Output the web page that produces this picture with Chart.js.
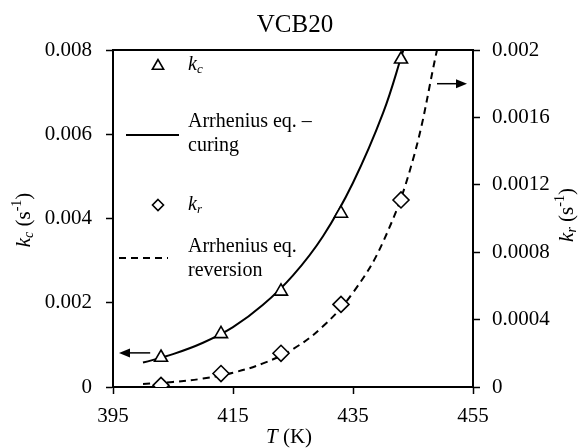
<!DOCTYPE html>
<html>
<head>
<meta charset="utf-8">
<script src="https://cdn.jsdelivr.net/npm/chart.js@4"></script>
<style>
html, body { margin: 0; padding: 0; background: #fff; }
</style>
</head>
<body>
<canvas id="chart" width="581" height="448"></canvas>
<script>
// measured rate constants (T in K)
const tempC = [403, 413, 423, 433, 443];
const kcVals = [0.00070, 0.00126, 0.00227, 0.00412, 0.00778];
const tempR = [403, 413, 423, 433, 443];
const krVals = [0.00001, 0.00008, 0.00020, 0.00049, 0.00111];

// Arrhenius fits
const fitCT = [400, 405, 410, 415, 420, 425, 430, 435, 440, 443.4];
const fitC = [0.00058, 0.00078, 0.00105, 0.00142, 0.00195, 0.00265, 0.00358, 0.00485, 0.0065, 0.0080];
const fitRT = [400, 405, 410, 415, 420, 425, 430, 435, 440, 445, 449];
const fitR = [0.000018, 0.00003, 0.00005, 0.000085, 0.00014, 0.000225, 0.00036, 0.00056, 0.00086, 0.00135, 0.0020];

// tick values
const xTicks = [395, 415, 435, 455];
const kcTicks = [0, 0.002, 0.004, 0.006, 0.008];
const krTicks = [0, 0.0004, 0.0008, 0.0012, 0.0016, 0.002];

const SERIF = '"Liberation Serif", "Times New Roman", serif';
const fnt = (size, italic) => (italic ? 'italic ' : '') + size + 'px ' + SERIF;
const fmt = v => String(parseFloat(v.toFixed(6)));

function drawRich(ctx, parts, x, y, align) {
    let w = 0;
    parts.forEach(p => { ctx.font = p.f; w += ctx.measureText(p.t).width; });
    let cx = align === 'center' ? x - w / 2 : x;
    ctx.textAlign = 'left';
    ctx.textBaseline = 'middle';
    parts.forEach(p => {
        ctx.font = p.f;
        ctx.fillText(p.t, cx, y + (p.dy || 0));
        cx += ctx.measureText(p.t).width;
    });
}

function triangle(ctx, x, y, r) {
    ctx.beginPath();
    ctx.moveTo(x, y - r);
    ctx.lineTo(x - r * 0.866, y + r / 2);
    ctx.lineTo(x + r * 0.866, y + r / 2);
    ctx.closePath();
    ctx.stroke();
}

function diamond(ctx, x, y, r) {
    ctx.beginPath();
    ctx.moveTo(x, y - r);
    ctx.lineTo(x + r, y);
    ctx.lineTo(x, y + r);
    ctx.lineTo(x - r, y);
    ctx.closePath();
    ctx.stroke();
}

function arrow(ctx, x1, y1, x2, y2) {
    const dir = Math.sign(x2 - x1);
    ctx.beginPath();
    ctx.moveTo(x1, y1);
    ctx.lineTo(x2 - dir * 9, y2);
    ctx.stroke();
    ctx.beginPath();
    ctx.moveTo(x2, y2);
    ctx.lineTo(x2 - dir * 11, y2 - 4.5);
    ctx.lineTo(x2 - dir * 11, y2 + 4.5);
    ctx.closePath();
    ctx.fill();
}

const decorations = {
    id: 'decorations',
    afterDraw(chart) {
        const ctx = chart.ctx;
        const sx = chart.scales.x, sy = chart.scales.y, sy2 = chart.scales.y2;
        ctx.save();
        ctx.fillStyle = '#000';
        ctx.strokeStyle = '#000';

        // title
        drawRich(ctx, [{ t: 'VCB20', f: fnt(25) }], 295, 25, 'center');

        // x title
        drawRich(ctx, [{ t: 'T', f: fnt(21, true) }, { t: ' (K)', f: fnt(21) }], 289, 437, 'center');

        // left y title
        ctx.save();
        ctx.translate(24, 220);
        ctx.rotate(-Math.PI / 2);
        drawRich(ctx, [
            { t: 'k', f: fnt(21, true) }, { t: 'c', f: fnt(14, true), dy: 5 },
            { t: ' (s', f: fnt(21) }, { t: '-1', f: fnt(14), dy: -7 }, { t: ')', f: fnt(21) }
        ], 0, 0, 'center');
        ctx.restore();

        // right y title
        ctx.save();
        ctx.translate(567, 215);
        ctx.rotate(-Math.PI / 2);
        drawRich(ctx, [
            { t: 'k', f: fnt(21, true) }, { t: 'r', f: fnt(14, true), dy: 5 },
            { t: ' (s', f: fnt(21) }, { t: '-1', f: fnt(14), dy: -7 }, { t: ')', f: fnt(21) }
        ], 0, 0, 'center');
        ctx.restore();

        // legend
        ctx.lineWidth = 1.6;
        triangle(ctx, 158, 66, 6.5);
        drawRich(ctx, [{ t: 'k', f: fnt(20, true) }, { t: 'c', f: fnt(13, true), dy: 5 }], 188, 65);

        ctx.lineWidth = 2;
        ctx.beginPath();
        ctx.moveTo(126, 135);
        ctx.lineTo(179, 135);
        ctx.stroke();
        drawRich(ctx, [{ t: 'Arrhenius eq. \u2013', f: fnt(20) }], 188, 122);
        drawRich(ctx, [{ t: 'curing', f: fnt(20) }], 188, 146);

        ctx.lineWidth = 1.6;
        diamond(ctx, 158, 205, 5.5);
        drawRich(ctx, [{ t: 'k', f: fnt(20, true) }, { t: 'r', f: fnt(13, true), dy: 5 }], 188, 205);

        ctx.lineWidth = 2;
        ctx.setLineDash([7, 5]);
        ctx.beginPath();
        ctx.moveTo(119, 258);
        ctx.lineTo(168, 258);
        ctx.stroke();
        ctx.setLineDash([]);
        drawRich(ctx, [{ t: 'Arrhenius eq.', f: fnt(20) }], 188, 247);
        drawRich(ctx, [{ t: 'reversion', f: fnt(20) }], 188, 271);

        // axis arrows
        ctx.lineWidth = 1.5;
        arrow(ctx, sx.getPixelForValue(401.2), sy.getPixelForValue(0.00081),
            sx.getPixelForValue(396), sy.getPixelForValue(0.00081));
        arrow(ctx, sx.getPixelForValue(449), sy2.getPixelForValue(0.0018),
            sx.getPixelForValue(454), sy2.getPixelForValue(0.0018));
        ctx.restore();
    }
};

const axisGrid = { display: true, drawOnChartArea: false, drawTicks: true, tickLength: 7, tickColor: '#000', tickWidth: 1.5 };
const axisBorder = { display: true, color: '#000', width: 2 };
const tickFont = { family: SERIF, size: 21 };

new Chart(document.getElementById('chart'), {
    type: 'line',
    data: {
        datasets: [
            {
                label: 'kc',
                data: tempC.map((t, i) => ({ x: t, y: kcVals[i] })),
                yAxisID: 'y',
                showLine: false,
                pointStyle: 'triangle',
                pointRadius: 7.5,
                pointBorderWidth: 1.6,
                pointBorderColor: '#000',
                pointBackgroundColor: '#fff',
                order: 0
            },
            {
                label: 'kr',
                data: tempR.map((t, i) => ({ x: t, y: krVals[i] })),
                yAxisID: 'y2',
                showLine: false,
                pointStyle: 'rectRot',
                pointRadius: 8,
                pointBorderWidth: 1.6,
                pointBorderColor: '#000',
                pointBackgroundColor: '#fff',
                order: 0
            },
            {
                label: 'Arrhenius eq. - curing',
                data: fitCT.map((t, i) => ({ x: t, y: fitC[i] })),
                yAxisID: 'y',
                borderColor: '#000',
                borderWidth: 2,
                pointRadius: 0,
                tension: 0.4,
                order: 1
            },
            {
                label: 'Arrhenius eq. reversion',
                data: fitRT.map((t, i) => ({ x: t, y: fitR[i] })),
                yAxisID: 'y2',
                borderColor: '#000',
                borderWidth: 2,
                borderDash: [7, 5],
                pointRadius: 0,
                tension: 0.4,
                order: 1
            }
        ]
    },
    options: {
        responsive: false,
        animation: false,
        devicePixelRatio: 1,
        layout: { padding: { top: 50, left: 0, right: 0, bottom: 0 } },
        plugins: { legend: { display: false }, tooltip: { enabled: false } },
        scales: {
            x: {
                type: 'linear',
                position: 'bottom',
                min: 395,
                max: 455,
                afterBuildTicks: s => { s.ticks = xTicks.map(v => ({ value: v })); },
                afterFit: s => { s.height = 61; },
                grid: axisGrid,
                border: axisBorder,
                ticks: { color: '#000', font: tickFont, padding: 10, maxRotation: 0 }
            },
            xTop: {
                type: 'linear',
                position: 'top',
                min: 395,
                max: 455,
                afterFit: s => { s.height = 0; },
                grid: { display: false },
                border: axisBorder,
                ticks: { display: false }
            },
            y: {
                position: 'left',
                min: 0,
                max: 0.008,
                afterBuildTicks: s => { s.ticks = kcTicks.map(v => ({ value: v })); },
                afterFit: s => { s.width = 113; },
                grid: axisGrid,
                border: axisBorder,
                ticks: { color: '#000', font: tickFont, padding: 14, callback: v => fmt(v) }
            },
            y2: {
                position: 'right',
                min: 0,
                max: 0.002,
                afterBuildTicks: s => { s.ticks = krTicks.map(v => ({ value: v })); },
                afterFit: s => { s.width = 108; },
                grid: axisGrid,
                border: axisBorder,
                ticks: { color: '#000', font: tickFont, padding: 12, callback: v => fmt(v) }
            }
        }
    },
    plugins: [decorations]
});
</script>
</body>
</html>
